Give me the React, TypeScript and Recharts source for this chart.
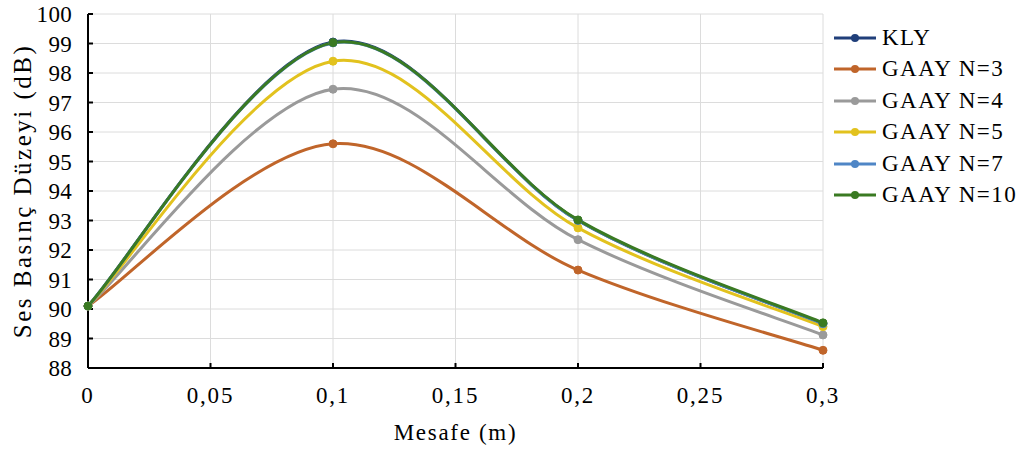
import React from "react";
import { LineChart, Line, XAxis, YAxis, CartesianGrid } from "recharts";

const distances = [0, 0.1, 0.2, 0.3];
const kly = [90.1, 99.05, 93.0, 89.5];
const gaayN3 = [90.1, 95.6, 91.32, 88.6];
const gaayN4 = [90.1, 97.45, 92.35, 89.12];
const gaayN5 = [90.1, 98.4, 92.75, 89.4];
const gaayN7 = [90.1, 99.02, 93.0, 89.5];
const gaayN10 = [90.1, 99.03, 93.02, 89.53];

const seriesNames = ["KLY", "GAAY N=3", "GAAY N=4", "GAAY N=5", "GAAY N=7", "GAAY N=10"];
const seriesValues = [kly, gaayN3, gaayN4, gaayN5, gaayN7, gaayN10];
const seriesColors = ["#203f7a", "#c0652a", "#9a9a9a", "#e2c21e", "#4f86c6", "#3a7a22"];

const xTicks = [0, 0.05, 0.1, 0.15, 0.2, 0.25, 0.3];
const yTicks = [88, 89, 90, 91, 92, 93, 94, 95, 96, 97, 98, 99, 100];

const data = distances.map((d, i) => {
  const row: Record<string, number> = { x: d };
  seriesNames.forEach((n, k) => {
    row[n] = seriesValues[k][i];
  });
  return row;
});

const FONT = '"Liberation Serif", "Times New Roman", serif';

// smoothed line like a spreadsheet's "smooth line" (catmull-rom style bezier)
class SmoothCurve {
  ctx: any;
  pts: number[][] = [];
  constructor(ctx: any) {
    this.ctx = ctx;
  }
  areaStart() {}
  areaEnd() {}
  lineStart() {
    this.pts = [];
  }
  point(x: number, y: number) {
    this.pts.push([+x, +y]);
  }
  lineEnd() {
    const p = this.pts;
    const c = this.ctx;
    if (!p.length) return;
    c.moveTo(p[0][0], p[0][1]);
    for (let i = 0; i < p.length - 1; i++) {
      const p0 = p[i - 1] || p[i];
      const p1 = p[i];
      const p2 = p[i + 1];
      const p3 = p[i + 2] || p[i + 1];
      c.bezierCurveTo(
        p1[0] + (p2[0] - p0[0]) / 6,
        p1[1] + (p2[1] - p0[1]) / 6,
        p2[0] - (p3[0] - p1[0]) / 6,
        p2[1] - (p3[1] - p1[1]) / 6,
        p2[0],
        p2[1]
      );
    }
  }
}
const smoothCurve = (ctx: any) => new SmoothCurve(ctx);

const App: React.FC = () => {
  return (
    <div style={{ position: "relative", width: 1024, height: 451, background: "#fff" }}>
      <style>{"body{margin:0}"}</style>
      <LineChart
        width={1024}
        height={451}
        data={data}
        margin={{ top: 14, right: 201, bottom: 0, left: 0 }}
      >
        <CartesianGrid stroke="#dcdcdc" strokeWidth={1} />
        <XAxis
          dataKey="x"
          type="number"
          domain={[0, 0.3]}
          ticks={xTicks}
          height={83}
          stroke="#000"
          strokeWidth={2}
          tickSize={-5}
          tickMargin={24}
          tick={{ fill: "#000", fontFamily: FONT, fontSize: 23, letterSpacing: 1.8 }}
          tickFormatter={(v: number) => String(v).replace(".", ",")}
          label={{
            value: "Mesafe (m)",
            position: "insideBottom",
            offset: 11,
            fill: "#000",
            fontFamily: FONT,
            fontSize: 23,
            letterSpacing: 1.7,
          }}
        />
        <YAxis
          type="number"
          domain={[88, 100]}
          ticks={yTicks}
          width={88}
          stroke="#000"
          strokeWidth={2}
          tickSize={-5}
          tickMargin={21}
          interval={0}
          tick={{ fill: "#000", fontFamily: FONT, fontSize: 23, letterSpacing: 0.3 }}
          label={{
            value: "Ses Basınç Düzeyi (dB)",
            angle: -90,
            position: "insideLeft",
            offset: 22,
            textAnchor: "middle",
            fill: "#000",
            fontFamily: FONT,
            fontSize: 25,
            letterSpacing: 2.5,
          }}
        />
        {seriesNames.map((n, k) => (
          <Line
            key={n}
            dataKey={n}
            type={smoothCurve as any}
            stroke={seriesColors[k]}
            strokeWidth={3}
            dot={{ r: 4, fill: seriesColors[k], stroke: seriesColors[k], strokeWidth: 1 }}
            isAnimationActive={false}
          />
        ))}
      </LineChart>
      <div style={{ position: "absolute", left: 833, top: 22, fontFamily: FONT }}>
        {seriesNames.map((n, k) => (
          <div key={n} style={{ display: "flex", alignItems: "center", height: 31.5 }}>
            <svg width={44} height={12} style={{ marginRight: 5 }}>
              <line x1={1} y1={6} x2={43} y2={6} stroke={seriesColors[k]} strokeWidth={3} />
              <circle cx={22} cy={6} r={4} fill={seriesColors[k]} />
            </svg>
            <span style={{ fontSize: 23, letterSpacing: 1.5, color: "#000" }}>{n}</span>
          </div>
        ))}
      </div>
    </div>
  );
};

export default App;
